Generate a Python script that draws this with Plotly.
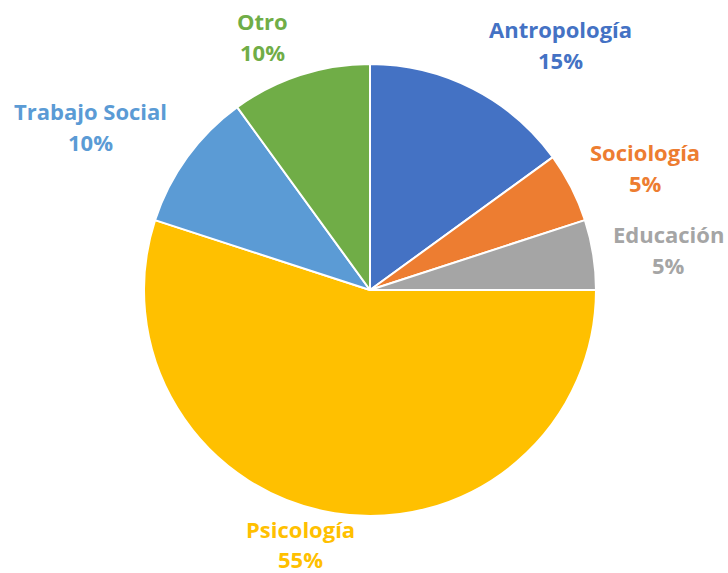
import plotly.graph_objects as go

labels = ["Antropología", "Sociología", "Educación", "Psicología", "Trabajo Social", "Otro"]
values = [15, 5, 5, 55, 10, 10]
colors = ["#4472C4", "#ED7D31", "#A5A5A5", "#FFC000", "#5B9BD5", "#70AD47"]

W, H = 728, 573
cx, cy, r = 370, 290, 226

# label placement (pixel centres of the name line and the percent line)
label_pos = {
    "Antropología": (560, 29, 60),
    "Sociología": (645, 152, 183),
    "Educación": (668, 234, 265),
    "Psicología": (300, 529, 559),
    "Trabajo Social": (90, 111, 142),
    "Otro": (262, 21, 52),
}

fig = go.Figure(go.Pie(
    labels=labels,
    values=values,
    sort=False,
    direction="clockwise",
    rotation=0,
    marker=dict(colors=colors, line=dict(color="white", width=2)),
    textinfo="none",
    hoverinfo="label+percent",
    domain=dict(x=[(cx - r) / W, (cx + r) / W], y=[1 - (cy + r) / H, 1 - (cy - r) / H]),
    showlegend=False,
))

total = sum(values)
font_family = "Open Sans, Liberation Sans, sans-serif"
for lab, val, col in zip(labels, values, colors):
    x, y1, y2 = label_pos[lab]
    pct = f"{round(100 * val / total)}%"
    for txt, yy in ((lab, y1), (pct, y2)):
        fig.add_annotation(
            x=x / W, y=1 - yy / H, xref="paper", yref="paper",
            text=f"<b>{txt}</b>", showarrow=False,
            xanchor="center", yanchor="middle",
            font=dict(family=font_family, size=22, color=col),
        )

fig.update_layout(
    width=W, height=H,
    margin=dict(l=0, r=0, t=0, b=0),
    paper_bgcolor="white",
    plot_bgcolor="white",
)

fig.write_html("out.html", config={"displayModeBar": False},
               post_script="document.body.style.margin='0';")
